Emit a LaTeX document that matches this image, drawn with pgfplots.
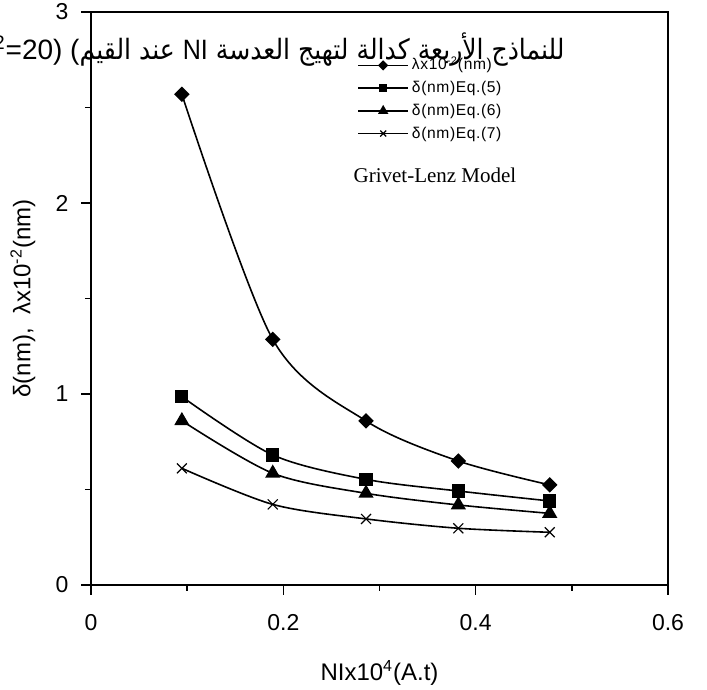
\documentclass[border=0pt]{standalone}
\usepackage{graphicx}
\usepackage{pgfplots}
\pgfplotsset{compat=1.18}
\usepackage{fontspec}
\setmainfont{Liberation Sans}
\newfontfamily\arabicfont[Script=Arabic]{DejaVu Sans}
\newfontfamily\latinfont{Liberation Sans}
\newfontfamily\legendfont[LetterSpace=4]{Liberation Sans}
\newfontfamily\seriffont{Liberation Serif}
\TeXXeTstate=1

\begin{document}
\begin{tikzpicture}
\begin{axis}[
  scale only axis, width=288.5pt, height=286.5pt,
  at={(0pt,0pt)}, anchor=south west,
  xmin=0, xmax=0.6, ymin=0, ymax=3,
  xtick={0,0.2,0.4,0.6}, ytick={0,1,2,3},
  minor xtick={0.1,0.3,0.5}, minor ytick={0.5,1.5,2.5},
  tick align=outside, major tick length=5pt, minor tick length=3pt,
  xtick pos=bottom, ytick pos=left,
  tick style={black, line width=0.7pt},
  axis line style={line width=0.7pt},
  /pgf/number format/assume math mode=true,
  ticklabel style={font=\fontsize{11.5}{13}\selectfont},
  xticklabel style={anchor=center, yshift=-14pt},
  yticklabel style={anchor=center, xshift=-9.5pt},
  xlabel={NIx10\textsuperscript{4}(A.t)},
  ylabel={δ(nm),\ \ λx10\textsuperscript{-2}(nm)},
  label style={font=\fontsize{12}{14}\selectfont},
  xlabel style={at={(axis description cs:0.5,-0.1536)}, anchor=center},
  ylabel style={at={(axis description cs:-0.118,0.5)}, anchor=center},
  legend cell align=left,
  legend image code/.code={
    \draw[mark repeat=2, mark phase=2, #1, every mark/.append style={scale=0.6}]
      plot coordinates {(0pt,0pt) (12.5pt,0pt) (25pt,0pt)};
  },
  legend style={draw=none, fill=none, inner sep=0pt,
    font=\legendfont\fontsize{7.8}{9}\selectfont,
    nodes={inner sep=1.5pt, text height=6pt, text depth=1.5pt},
    row sep=0.85pt,
    at={(rel axis cs:0.461,0.9258)}, anchor=north west},
]
% lambda x 10^-2 (nm)
\addplot[black, line width=0.8pt, smooth, mark=square*, mark size=2.35pt,
  mark options={rotate=45, solid}] coordinates {
  (0.0945,2.569) (0.189,1.286) (0.286,0.859) (0.382,0.649) (0.477,0.524)};
\addlegendentry{λx10\textsuperscript{-2}(nm)}
% delta, Eq. (5)
\addplot[black, line width=0.8pt, smooth, mark=square*, mark size=2.9pt,
  mark options={solid}] coordinates {
  (0.0945,0.986) (0.189,0.681) (0.286,0.553) (0.382,0.492) (0.477,0.440)};
\addlegendentry{δ(nm)Eq.(5)}
% delta, Eq. (6)
\addplot[black, line width=0.8pt, smooth, mark=triangle*, mark size=3.6pt,
  mark options={solid}] coordinates {
  (0.0945,0.860) (0.189,0.585) (0.286,0.480) (0.382,0.419) (0.477,0.375)};
\addlegendentry{δ(nm)Eq.(6)}
% delta, Eq. (7)
\addplot[black, line width=0.8pt, smooth, mark=x, mark size=3.5pt,
  mark options={solid, line width=0.6pt}] coordinates {
  (0.0945,0.611) (0.189,0.422) (0.286,0.346) (0.382,0.297) (0.477,0.276)};
\addlegendentry{δ(nm)Eq.(7)}

\node[font=\seriffont\fontsize{10.5}{12}\selectfont] at (axis cs:0.3577,2.147) {Grivet-Lenz Model};
\end{axis}

% heading line: Arabic run, then the bracketed value that runs off the left edge
\node[anchor=base east, inner sep=0pt, font=\fontsize{14}{16}\selectfont]
  at (237pt,262.5pt)
  {\resizebox{242.5pt}{\height}{\arabicfont\beginR للنماذج الأربعة كدالة لتهيج العدسة \beginL{\latinfont NI}\endL{} عند القيم\endR}};
\node[anchor=base east, inner sep=0pt, font=\fontsize{14}{16}\selectfont]
  at (-5.5pt,262.5pt) {(k\textsuperscript{2}=20) (};

\pgfresetboundingbox
\path[use as bounding box] (-45.5pt,-52.5pt) rectangle (308pt,292.5pt);
\end{tikzpicture}
\end{document}
